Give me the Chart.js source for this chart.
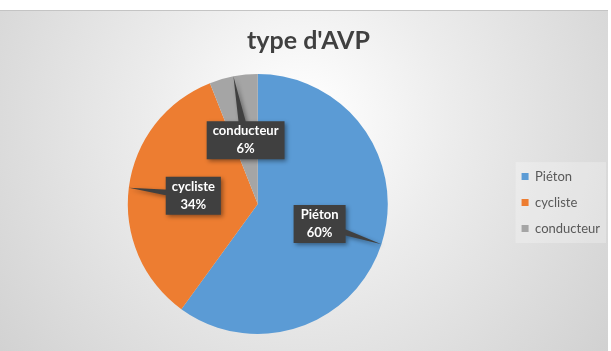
<!DOCTYPE html>
<html>
<head>
<meta charset="utf-8">
<script src="https://cdn.jsdelivr.net/npm/chart.js@4"></script>
<style>
  html, body { margin: 0; padding: 0; background: #fff; }
  #wrap { width: 611px; height: 351px; position: relative; }
</style>
</head>
<body>
<div id="wrap"><canvas id="chartAvp"></canvas></div>
<script>
// chart data
const categories = ["Piéton", "cycliste", "conducteur"];
const shares = [60, 34, 6];
const sliceColors = ["#5B9BD5", "#ED7D31", "#A5A5A5"];
const chartTitle = "type d'AVP";

// Excel-like gradient background with the thin white strip on top
const backgroundPlugin = {
    id: 'avpBackground',
    beforeDraw(chart) {
        const { ctx, width, height } = chart;
        ctx.save();
        ctx.fillStyle = '#ffffff';
        ctx.fillRect(0, 0, width, height);
        const grad = ctx.createRadialGradient(300, 120, 10, 300, 120, 420);
        grad.addColorStop(0, '#ffffff');
        grad.addColorStop(0.35, '#ececec');
        grad.addColorStop(1, '#cdcdcd');
        ctx.fillStyle = grad;
        ctx.fillRect(0, 10, width - 3, height - 10);
        ctx.fillStyle = '#c4c4c4';
        ctx.fillRect(0, 10, width - 3, 1);
        // faint legend panel
        const lg = chart.legend;
        if (lg && lg.legendHitBoxes && lg.legendHitBoxes.length) {
            const boxes = lg.legendHitBoxes;
            const x0 = boxes[0].left - 6;
            const y0 = boxes[0].top - 8;
            const x1 = Math.max(...boxes.map(b => b.left + b.width)) + 6;
            const y1 = boxes[boxes.length - 1].top + boxes[boxes.length - 1].height + 8;
            ctx.fillStyle = 'rgba(255,255,255,0.25)';
            ctx.fillRect(x0, y0, x1 - x0, y1 - y0);
        }
        ctx.restore();
    }
};

// dark callout labels pointing at each slice
const calloutPlugin = {
    id: 'avpCallouts',
    afterDatasetsDraw(chart) {
        const { ctx } = chart;
        const meta = chart.getDatasetMeta(0);
        const total = shares.reduce((a, b) => a + b, 0);
        ctx.save();
        ctx.font = 'bold 13px Lato, "Open Sans", sans-serif';
        meta.data.forEach((arc, i) => {
            const { x, y, startAngle, endAngle, outerRadius } = arc.getProps(['x', 'y', 'startAngle', 'endAngle', 'outerRadius'], true);
            const mid = (startAngle + endAngle) / 2;
            const cx = x + Math.cos(mid) * outerRadius * 0.5;
            const cy = y + Math.sin(mid) * outerRadius * 0.5;
            const tipX = x + Math.cos(mid) * outerRadius;
            const tipY = y + Math.sin(mid) * outerRadius;

            const line1 = categories[i];
            const line2 = Math.round(shares[i] / total * 100) + '%';
            const tw = Math.max(ctx.measureText(line1).width, ctx.measureText(line2).width);
            const bw = Math.max(tw + 12, 52);
            const bh = 38;
            const bx = cx - bw / 2;
            const by = cy - bh / 2;

            // wedge base perpendicular to the pointer direction
            const dx = tipX - cx, dy = tipY - cy;
            const len = Math.hypot(dx, dy) || 1;
            const px = -dy / len * 5, py = dx / len * 5;
            let p1 = [cx + px, cy + py], p2 = [cx - px, cy - py];
            const cross = (p1[0] - tipX) * (p2[1] - tipY) - (p1[1] - tipY) * (p2[0] - tipX);
            if (cross < 0) { const t = p1; p1 = p2; p2 = t; }

            ctx.beginPath();
            ctx.rect(bx, by, bw, bh);
            ctx.moveTo(tipX, tipY);
            ctx.lineTo(p1[0], p1[1]);
            ctx.lineTo(p2[0], p2[1]);
            ctx.closePath();
            ctx.shadowColor = 'rgba(0,0,0,0.4)';
            ctx.shadowBlur = 4;
            ctx.shadowOffsetX = 2;
            ctx.shadowOffsetY = 2;
            ctx.fillStyle = '#404040';
            ctx.fill('nonzero');

            ctx.shadowColor = 'transparent';
            ctx.fillStyle = '#ffffff';
            ctx.textAlign = 'center';
            ctx.textBaseline = 'middle';
            ctx.fillText(line1, cx, cy - 9);
            ctx.fillText(line2, cx, cy + 9);
        });
        ctx.restore();
    }
};

new Chart(document.getElementById('chartAvp'), {
    type: 'pie',
    data: {
        labels: categories,
        datasets: [{
            data: shares,
            backgroundColor: sliceColors,
            borderWidth: 0
        }]
    },
    options: {
        responsive: true,
        maintainAspectRatio: false,
        animation: false,
        layout: { padding: { top: 10, left: 7, right: 1, bottom: 17 } },
        plugins: {
            title: {
                display: true,
                text: chartTitle,
                color: '#404040',
                font: { family: 'Lato, "Open Sans", sans-serif', size: 25, weight: 'bold' },
                padding: { top: 16, bottom: 18 }
            },
            legend: {
                position: 'right',
                title: {
                    display: true,
                    text: ' ',
                    font: { size: 1 },
                    padding: { top: 60, bottom: 0 }
                },
                labels: {
                    boxWidth: 7,
                    boxHeight: 7,
                    padding: 13,
                    color: '#595959',
                    font: { family: 'Lato, "Open Sans", sans-serif', size: 13 }
                }
            },
            tooltip: { enabled: false }
        }
    },
    plugins: [backgroundPlugin, calloutPlugin]
});
</script>
</body>
</html>
